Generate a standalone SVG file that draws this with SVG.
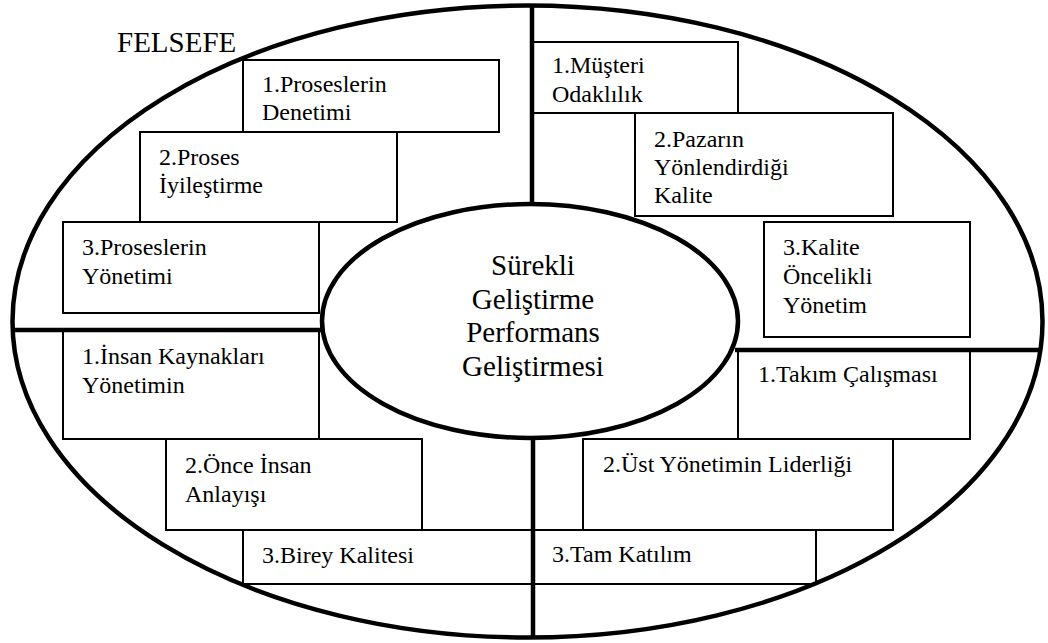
<svg xmlns="http://www.w3.org/2000/svg" width="1048" height="643" viewBox="0 0 1048 643">
<style>
.box{fill:#fff;stroke:#000;stroke-width:2}
.t{font-family:'Liberation Serif','DejaVu Serif',serif;font-size:24px;fill:#000}
.big{font-family:'Liberation Serif','DejaVu Serif',serif;font-size:29px;fill:#000}
.thick{fill:none;stroke:#000;stroke-width:4.5}
</style>
<rect width="1048" height="643" fill="#fff"/>
<g id="n-proses-denetimi"><rect class="box" x="243" y="60" width="256" height="72"/><text class="t" x="262" y="92">1.Proseslerin</text><text class="t" x="262" y="120">Denetimi</text></g>
<g id="n-proses-iyilestirme"><rect class="box" x="140" y="132" width="257" height="90"/><text class="t" x="159" y="165">2.Proses</text><text class="t" x="159" y="193">İyileştirme</text></g>
<g id="n-proses-yonetimi"><rect class="box" x="63" y="222" width="256" height="91"/><text class="t" x="82" y="255">3.Proseslerin</text><text class="t" x="82" y="284">Yönetimi</text></g>
<g id="n-musteri"><rect class="box" x="532" y="42" width="206" height="71"/><text class="t" x="552" y="73">1.Müşteri</text><text class="t" x="552" y="102">Odaklılık</text></g>
<g id="n-pazar"><rect class="box" x="635" y="113" width="258" height="103"/><text class="t" x="654" y="147">2.Pazarın</text><text class="t" x="654" y="175">Yönlendirdiği</text><text class="t" x="654" y="203">Kalite</text></g>
<g id="n-kalite"><rect class="box" x="764" y="222" width="206" height="115"/><text class="t" x="783" y="255">3.Kalite</text><text class="t" x="783" y="284">Öncelikli</text><text class="t" x="783" y="313">Yönetim</text></g>
<g id="n-insan-kaynak"><rect class="box" x="63" y="331" width="256" height="108"/><text class="t" x="82" y="364">1.İnsan Kaynakları</text><text class="t" x="82" y="393">Yönetimin</text></g>
<g id="n-once-insan"><rect class="box" x="166" y="439" width="256" height="91"/><text class="t" x="185" y="473">2.Önce İnsan</text><text class="t" x="185" y="502">Anlayışı</text></g>
<g id="n-birey"><rect class="box" x="243" y="530" width="290" height="54"/><text class="t" x="262" y="563">3.Birey Kalitesi</text></g>
<g id="n-takim"><rect class="box" x="738" y="350" width="232" height="89"/><text class="t" x="758" y="382">1.Takım Çalışması</text></g>
<g id="n-ust-yonetim"><rect class="box" x="583" y="439" width="310" height="91"/><text class="t" x="603" y="472">2.Üst Yönetimin Liderliği</text></g>
<g id="n-tam-katilim"><rect class="box" x="533" y="530" width="283" height="54"/><text class="t" x="552" y="562">3.Tam Katılım</text></g>
<g id="connectors">
<ellipse class="thick" cx="527.5" cy="321.5" rx="515" ry="316"/>
<ellipse class="thick" cx="530" cy="321" rx="208" ry="117"/>
<line class="thick" x1="532" y1="5" x2="532" y2="204"/>
<line class="thick" x1="533" y1="438" x2="533" y2="638"/>
<line class="thick" x1="13" y1="330" x2="322" y2="330"/>
<line class="thick" x1="735" y1="350" x2="1042" y2="350"/>
</g>
<g id="n-center"><text class="big" text-anchor="middle" x="533" y="275">Sürekli</text><text class="big" text-anchor="middle" x="533" y="309">Geliştirme</text><text class="big" text-anchor="middle" x="533" y="342">Performans</text><text class="big" text-anchor="middle" x="533" y="376">Geliştirmesi</text></g>
<g id="n-felsefe"><text class="big" x="117" y="52">FELSEFE</text></g>
</svg>
